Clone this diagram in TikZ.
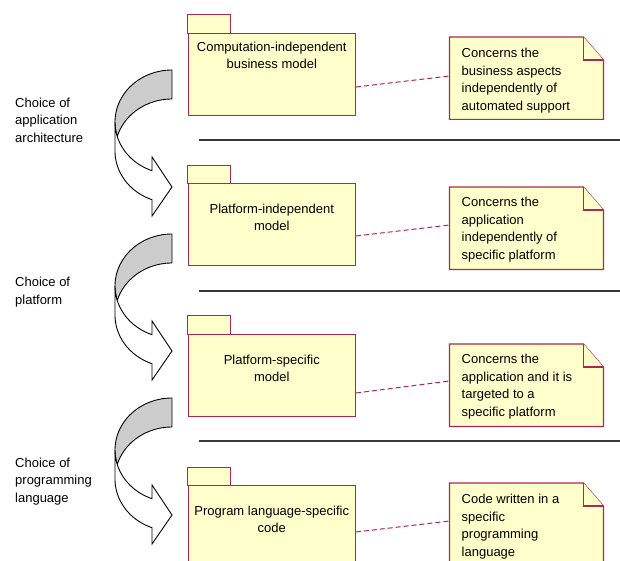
\documentclass[tikz,border=0pt]{standalone}
\usepackage{fontspec}
\setmainfont{Liberation Sans}
\usetikzlibrary{calc}
\definecolor{pkgfill}{RGB}{255,255,204}
\definecolor{pkgline}{RGB}{172,40,82}
\definecolor{arrowgray}{RGB}{204,204,204}
\definecolor{rulegray}{RGB}{55,55,55}
\tikzset{
  txt/.style={font=\fontsize{13bp}{17.6bp}\selectfont, inner sep=0pt},
  pkgbody/.style={draw=pkgline, fill=pkgfill, line width=0.9bp, minimum width=167.3bp,
    minimum height=82bp, anchor=north west, inner sep=0pt},
  notebox/.style={minimum width=153.5bp, minimum height=82bp, anchor=north west, inner sep=0pt},
  noteline/.style={draw=pkgline, fill=pkgfill, line width=1.2bp, line join=miter},
  conn/.style={draw=pkgline, line width=1bp, dash pattern=on 5bp off 3bp},
  sep/.style={draw=rulegray, line width=1.2bp},
  arrowband/.style={draw=black, line width=0.9bp, line join=miter}
}
% package symbol: body node plus its tab
\newcommand\umlpackage[4]{% name, x, y of body top, tab height
  \node[pkgbody] (#1) at (#2,#3) {};
  \filldraw[draw=pkgline, fill=pkgfill, line width=0.9bp]
    (#1.north west) rectangle ([xshift=42.3bp,yshift=#4]#1.north west);
}
% note with a folded corner
\newcommand\umlnote[3]{% name, x, y of top
  \node[notebox] (#1) at (#2,#3) {};
  \path[noteline] (#1.north west) -- ([xshift=-20bp]#1.north east)
    -- ([yshift=-23bp]#1.north east) -- (#1.south east) -- (#1.south west) -- cycle;
  \path[noteline] ([xshift=-20bp]#1.north east) -- ([xshift=-20bp,yshift=-23bp]#1.north east)
    -- ([yshift=-23bp]#1.north east);
}
% curved right arrow: back band (grey) and front band with head
\newcommand\choicearrow[1]{% y of top
  \filldraw[arrowband, fill=arrowgray]
    plot[domain=-90:-196.2, samples=50] ({172+57*cos(\x)},{#1+52+52*sin(\x)})
    -- plot[domain=-163.8:-90, samples=50] ({172+57*cos(\x)},{#1+81+52*sin(\x)}) -- cycle;
  \filldraw[arrowband, fill=white]
    plot[domain=180:110.5, samples=50] ({172+57*cos(\x)},{#1+52+52*sin(\x)})
    -- (152,#1+87) -- (172,#1+117) -- (152,#1+146)
    -- plot[domain=110.5:180, samples=50] ({172+57*cos(\x)},{#1+81+52*sin(\x)}) -- cycle;
}
\begin{document}
\begin{tikzpicture}[x=1bp,y=-1bp]
  \useasboundingbox (0,0) rectangle (620,561);
  \clip (0,0) rectangle (620,561);

  % separators between the levels
  \draw[sep] (199,140) -- (620,140);
  \draw[sep] (199,291) -- (620,291);
  \draw[sep] (199,441) -- (620,441);

  % transformations between levels
  \choicearrow{70}
  \choicearrow{234}
  \choicearrow{398}

  \node[txt, anchor=north west, align=left] (c1) at (15,97.5) {Choice of\\application\\architecture};
  \node[txt, anchor=north west, align=left] (c2) at (15,277) {Choice of\\platform};
  \node[txt, anchor=north west, align=left] (c3) at (15,457.5) {Choice of\\programming\\language};

  % models
  \umlpackage{p1}{187.7}{33}{19}
  \umlpackage{p2}{187.7}{183}{18}
  \umlpackage{p3}{187.7}{334}{19}
  \umlpackage{p4}{187.7}{485}{18}

  \node[txt, anchor=north, align=center] (p1t) at ($(p1.north)+(0,8.5)$) {Computation-independent\\business model};
  \node[txt, anchor=north, align=center] (p2t) at ($(p2.north)+(0,20.5)$) {Platform-independent\\model};
  \node[txt, anchor=north, align=center] (p3t) at ($(p3.north)+(0,20.5)$) {Platform-specific\\model};
  \node[txt, anchor=north, align=center] (p4t) at ($(p4.north)+(0,20.5)$) {Program language-specific\\code};

  % notes
  \umlnote{n1}{449.5}{37}
  \umlnote{n2}{449.5}{187}
  \umlnote{n3}{449.5}{344}
  \umlnote{n4}{449.5}{483}

  \node[txt, anchor=north west, align=left] (n1t) at ($(n1.north west)+(12,11)$) {Concerns the\\business aspects\\independently of\\automated support};
  \node[txt, anchor=north west, align=left] (n2t) at ($(n2.north west)+(12,10)$) {Concerns the\\application\\independently of\\specific platform};
  \node[txt, anchor=north west, align=left] (n3t) at ($(n3.north west)+(12,10)$) {Concerns the\\application and it is\\targeted to a\\specific platform};
  \node[txt, anchor=north west, align=left] (n4t) at ($(n4.north west)+(12,11)$) {Code written in a\\specific\\programming\\language};

  % attachments
  \draw[conn] ([yshift=-54bp]p1.north east) -- ([yshift=-39bp]n1.north west);
  \draw[conn] ([yshift=-53bp]p2.north east) -- ([yshift=-38bp]n2.north west);
  \draw[conn] ([yshift=-59bp]p3.north east) -- ([yshift=-37bp]n3.north west);
  \draw[conn] ([yshift=-47bp]p4.north east) -- ([yshift=-38bp]n4.north west);
\end{tikzpicture}
\end{document}
